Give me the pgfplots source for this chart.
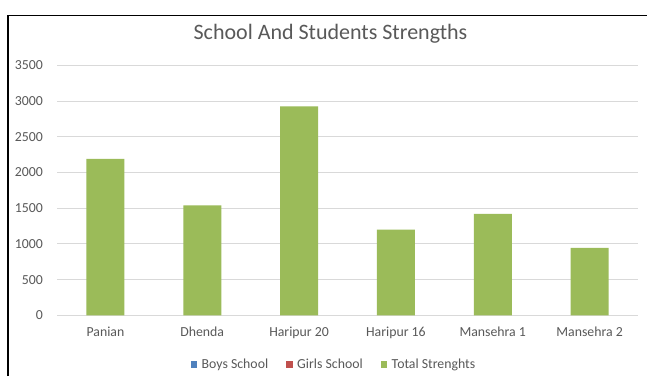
\documentclass[border=0pt]{standalone}
\usepackage{fontspec}
\setmainfont{Carlito}
\usepackage{pgfplots}
\pgfplotsset{compat=1.18}
\definecolor{boys}{HTML}{4F81BD}
\definecolor{girls}{HTML}{C0504D}
\definecolor{total}{HTML}{9BBB59}
\definecolor{txt}{HTML}{595959}
\definecolor{gridc}{HTML}{D9D9D9}
\begin{document}
\begin{tikzpicture}[x=1pt,y=1pt]
\useasboundingbox (0,0) rectangle (647,376);
\fill[white] (0,0) rectangle (647,376);
\draw[line width=1.3pt, black] (8,0) -- (8,360.3) -- (647,360.3);
\node[anchor=base, text=txt, font=\fontsize{22}{26}\selectfont, inner sep=0] at (330.5,337) {School And Students Strengths};
\begin{axis}[
  at={(57pt,310.7pt)}, anchor=north west,
  scale only axis, width=581pt, height=250pt,
  ymin=0, ymax=3500, xmin=-0.5, xmax=5.5,
  ytick={0,500,...,3500},
  xtick=data,
  xticklabels={Panian,Dhenda,Haripur 20,Haripur 16,Mansehra 1,Mansehra 2},
  /pgf/number format/assume math mode=true,
  /pgf/number format/1000 sep={},
  axis line style={draw=none},
  axis x line*=bottom,
  x axis line style={draw=gridc, line width=0.8pt},
  major tick length=0pt,
  ymajorgrids, grid style={draw=gridc, line width=0.8pt},
  tick label style={text=txt, font=\fontsize{13.8}{16}\selectfont},
  yticklabel style={anchor=east, inner sep=0pt, xshift=-14pt},
  xticklabel style={anchor=center, inner sep=0pt, yshift=-18.7pt, text height=1.6ex, text depth=0.4ex},
  ybar, bar width=38pt,
  legend style={draw=none, fill=none, at={(0.475,-0.1976)}, anchor=center,
    legend columns=-1, font=\fontsize{13.8}{16}\selectfont, text=txt,
    nodes={inner xsep=0pt},
    /tikz/every odd column/.append style={column sep=4.5pt},
    /tikz/every even column/.append style={column sep=18pt}},
  legend image code/.code={\fill[#1, draw=none] (0pt,-3pt) rectangle (6.5pt,3.5pt);},
]
\addlegendimage{fill=boys, draw=none}
\addlegendentry{Boys School}
\addlegendimage{fill=girls, draw=none}
\addlegendentry{Girls School}
\addplot[fill=total, draw=none] coordinates {(0,2190) (1,1540) (2,2925) (3,1200) (4,1420) (5,945)};
\addlegendentry{Total Strenghts}
\end{axis}
\end{tikzpicture}
\end{document}
